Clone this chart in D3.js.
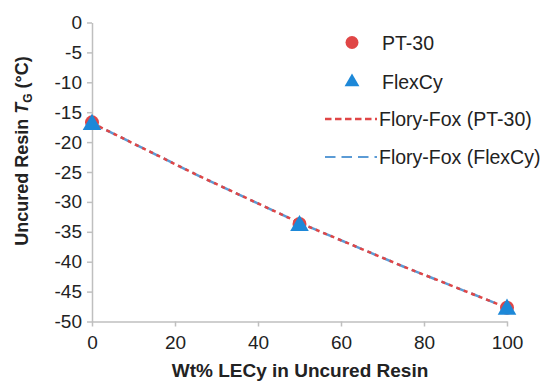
<!DOCTYPE html>
<html><head><meta charset="utf-8">
<script src="https://cdn.jsdelivr.net/npm/d3@7"></script>
<style>body{margin:0;background:#fff}svg{display:block}</style>
</head><body>
<div id="chart"></div>
<script>
const wtPct = [0, 50, 100];
const pt30 = [-16.7, -33.7, -47.7];
const flexCy = [-16.9, -33.8, -47.8];
const ffX = [0, 25, 50, 75, 100];
const ffPT30 = [-16.8, -25.4, -33.5, -40.8, -47.7];
const ffFlexCy = [-16.8, -25.4, -33.5, -40.8, -47.7];
const xTicks = [0, 20, 40, 60, 80, 100];
const yTicks = [0, -5, -10, -15, -20, -25, -30, -35, -40, -45, -50];
const legendLabels = ["PT-30", "FlexCy", "Flory-Fox (PT-30)", "Flory-Fox (FlexCy)"];

const W = 547, H = 383;
const red = "#e04646", blue = "#1d88d8", blueLine = "#5b9bd5", grey = "#bfbfbf";
const FONT = "'Liberation Sans', Arial, sans-serif";
const svg = d3.select("#chart").append("svg").attr("width", W).attr("height", H)
  .style("font-family", FONT);

const x = d3.scaleLinear().domain([0, 100]).range([92, 507]);
const y = d3.scaleLinear().domain([-50, 0]).range([321.5, 22.5]);

// axes
const xAxis = svg.append("g").attr("transform", `translate(0,${y(-50)})`)
  .call(d3.axisBottom(x).tickValues(xTicks).tickSize(5).tickSizeOuter(0).tickPadding(9));
const yAxis = svg.append("g").attr("transform", `translate(${x(0)},0)`)
  .call(d3.axisLeft(y).tickValues(yTicks).tickFormat(d => String(d)).tickSize(5).tickSizeOuter(0).tickPadding(5));
[xAxis, yAxis].forEach(a => {
  a.select(".domain").attr("stroke", grey).attr("stroke-width", 1.5);
  a.selectAll(".tick line").attr("stroke", grey).attr("stroke-width", 1.5);
  a.selectAll(".tick text").attr("fill", "#222").style("font-size", "19px")
    .style("font-family", FONT);
});

// flory-fox lines
const line = d3.line().x((d, i) => x(ffX[i])).y(d => y(d));
svg.append("path").attr("d", line(ffFlexCy)).attr("fill", "none")
  .attr("stroke", blueLine).attr("stroke-width", 2.5).attr("stroke-dasharray", "10,6");
svg.append("path").attr("d", line(ffPT30)).attr("fill", "none")
  .attr("stroke", red).attr("stroke-width", 2.5).attr("stroke-dasharray", "4,4");

// markers
svg.selectAll(".pt").data(pt30).join("circle")
  .attr("cx", (d, i) => x(wtPct[i])).attr("cy", d => y(d)).attr("r", 7).attr("fill", red);
const tri = d3.symbol().type(d3.symbolTriangle).size(150);
svg.selectAll(".fc").data(flexCy).join("path")
  .attr("d", tri).attr("transform", (d, i) => `translate(${x(wtPct[i])},${y(d) + 1})`)
  .attr("fill", blue);

// legend
const lg = svg.append("g").style("font-size", "19.5px").attr("fill", "#222");
const ly = [42.5, 82, 119, 157];
lg.append("circle").attr("cx", 352).attr("cy", ly[0]).attr("r", 6.5).attr("fill", red);
lg.append("path").attr("d", d3.symbol().type(d3.symbolTriangle).size(95))
  .attr("transform", `translate(352,${ly[1]})`).attr("fill", blue);
lg.append("line").attr("x1", 325).attr("x2", 377).attr("y1", ly[2]).attr("y2", ly[2])
  .attr("stroke", red).attr("stroke-width", 2.5).attr("stroke-dasharray", "6.5,3.5");
lg.append("line").attr("x1", 325).attr("x2", 377).attr("y1", ly[3]).attr("y2", ly[3])
  .attr("stroke", blueLine).attr("stroke-width", 2).attr("stroke-dasharray", "10.5,6");
legendLabels.forEach((t, i) => {
  lg.append("text").attr("x", i < 2 ? 382 : 379).attr("y", ly[i]).attr("dy", "0.36em").text(t);
});

// axis titles
svg.append("text").attr("x", 300).attr("y", 377)
  .attr("text-anchor", "middle").style("font-size", "19px").style("font-weight", "bold")
  .attr("fill", "#222").text("Wt% LECy in Uncured Resin");
const yt = svg.append("text").attr("transform", "translate(28,151) rotate(-90)")
  .attr("text-anchor", "middle").style("font-size", "18px").style("font-weight", "bold")
  .attr("fill", "#222");
yt.append("tspan").text("Uncured Resin ");
yt.append("tspan").style("font-style", "italic").text("T");
yt.append("tspan").attr("dy", 4).style("font-size", "12px").text("G");
yt.append("tspan").attr("dy", -4).text(" (°C)");
</script>
</body></html>
